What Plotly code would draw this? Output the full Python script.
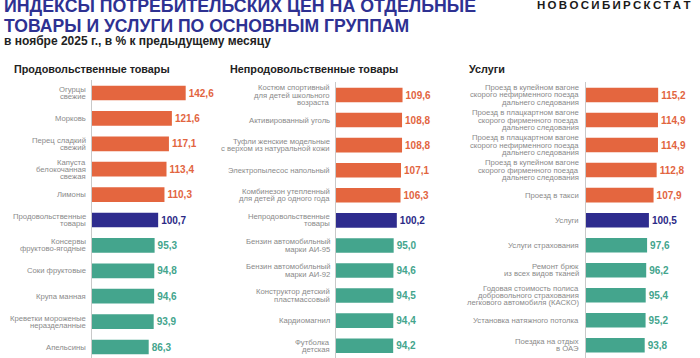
import plotly.graph_objects as go

# ---------------- data ----------------
food_labels = ["Огурцы<br>свежие", "Морковь", "Перец сладкий<br>свежий",
               "Капуста<br>белокочанная<br>свежая", "Лимоны",
               "Продовольственные<br>товары", "Консервы<br>фруктово-ягодные",
               "Соки фруктовые", "Крупа манная",
               "Креветки мороженые<br>неразделанные", "Апельсины"]
food_values = [142.6, 121.6, 117.1, 113.4, 110.3, 100.7, 95.3, 94.8, 94.6, 93.9, 86.3]

nonfood_labels = ["Костюм спортивный<br>для детей школьного<br>возраста",
                  "Активированный уголь",
                  "Туфли женские модельные<br>с верхом из натуральной кожи",
                  "Электропылесос напольный",
                  "Комбинезон утепленный<br>для детей до одного года",
                  "Непродовольственные<br>товары",
                  "Бензин автомобильный<br>марки АИ-95",
                  "Бензин автомобильный<br>марки АИ-92",
                  "Конструктор детский<br>пластмассовый",
                  "Кардиомагнил", "Футболка<br>детская"]
nonfood_values = [109.6, 108.8, 108.8, 107.1, 106.3, 100.2, 95.0, 94.6, 94.5, 94.4, 94.2]

service_labels = ["Проезд в купейном вагоне<br>скорого нефирменного поезда<br>дальнего следования",
                  "Проезд в плацкартном вагоне<br>скорого фирменного поезда<br>дальнего следования",
                  "Проезд в плацкартном вагоне<br>скорого нефирменного поезда<br>дальнего следования",
                  "Проезд в купейном вагоне<br>скорого фирменного поезда<br>дальнего следования",
                  "Проезд в такси", "Услуги", "Услуги страхования",
                  "Ремонт брюк<br>из всех видов тканей",
                  "Годовая стоимость полиса<br>добровольного страхования<br>легкового автомобиля (КАСКО)",
                  "Установка натяжного потолка",
                  "Поездка на отдых<br>в ОАЭ"]
service_values = [115.2, 114.9, 114.9, 112.8, 107.9, 100.5, 97.6, 96.2, 95.4, 95.2, 93.8]

panel_titles = ["Продовольственные товары", "Непродовольственные товары", "Услуги"]
title_line1 = "ИНДЕКСЫ ПОТРЕБИТЕЛЬСКИХ ЦЕН НА ОТДЕЛЬНЫЕ"
title_line2 = "ТОВАРЫ И УСЛУГИ ПО ОСНОВНЫМ ГРУППАМ"
subtitle = "в ноябре 2025 г., в % к предыдущему месяцу"
brand = "НОВОСИБИРСКСТАТ"

# ---------------- styling ----------------
W, H = 700, 358
FONT = "Liberation Sans, Arial, sans-serif"
ORANGE = "#E4663F"
NAVY = "#2E2C8E"
TEAL = "#44A58D"
TXT_ORANGE = "#E2653F"
TXT_NAVY = "#2B2A86"
TXT_TEAL = "#44A58D"
LABEL_GRAY = "#8A8A8A"
TITLE_BLUE = "#2E3192"


def colors_for(n):
    bar = [ORANGE] * 5 + [NAVY] + [TEAL] * (n - 6)
    txt = [TXT_ORANGE] * 5 + [TXT_NAVY] + [TXT_TEAL] * (n - 6)
    return bar, txt


# panel geometry: axis x (px), px per unit, first bar center (px), spacing (px), title x px
panels = [
    dict(labels=food_labels, values=food_values, ax=92.0, scale=0.657, c0=93.0, S=25.4, tx=11.5),
    dict(labels=nonfood_labels, values=nonfood_values, ax=336.0, scale=0.607, c0=95.0, S=25.07, tx=227.5),
    dict(labels=service_labels, values=service_values, ax=585.7, scale=0.629, c0=95.0, S=25.03, tx=467.0),
]
R = 160

fig = go.Figure()
annotations = []
layout_axes = {}

for i, p in enumerate(panels):
    k = "" if i == 0 else str(i + 1)
    xa, ya = "x" + k, "y" + k
    bar_c, txt_c = colors_for(len(p["values"]))
    fig.add_trace(go.Bar(
        x=p["values"], y=p["labels"], orientation="h",
        xaxis=xa, yaxis=ya,
        marker=dict(color=bar_c, line=dict(width=0)),
        width=0.58,
        text=["<b>" + f"{v:.1f}".replace(".", ",") + "</b>" for v in p["values"]],
        textposition="outside",
        textfont=dict(family=FONT, size=10, color=txt_c),
        constraintext="none",
        cliponaxis=False,
        hoverinfo="skip",
        showlegend=False,
    ))
    top = p["c0"] - p["S"] / 2
    bottom_val = -0.5 + (H - top) / p["S"]
    layout_axes["xaxis" + k] = dict(
        domain=[p["ax"] / W, (p["ax"] + R * p["scale"]) / W],
        range=[0, R], anchor=ya, visible=False, fixedrange=True,
    )
    layout_axes["yaxis" + k] = dict(
        domain=[0, 1 - top / H], anchor=xa, type="category",
        categoryorder="array", categoryarray=p["labels"],
        range=[bottom_val, -0.5],
        showticklabels=False, showgrid=False, zeroline=False,
        showline=True, linecolor="#C9C9C9", linewidth=1, ticks="",
    )
    # category labels, one annotation per line for tight line spacing
    LS = 7.2
    for lab in p["labels"]:
        lines = lab.split("<br>")
        m = len(lines)
        for j, ln in enumerate(lines):
            off = (j - (m - 1) / 2) * LS
            annotations.append(dict(
                x=0, y=lab, xref=xa, yref=ya, text=ln, showarrow=False,
                xanchor="right", yanchor="middle", xshift=-4.5, yshift=-off,
                font=dict(family=FONT, size=7.7, color=LABEL_GRAY),
            ))
    # panel title
    annotations.append(dict(
        x=p["tx"] / W, y=1 - 68.5 / H, xref="paper", yref="paper",
        text="<b>" + panel_titles[i] + "</b>", showarrow=False,
        xanchor="left", yanchor="middle",
        font=dict(family=FONT, size=10.8, color="#222222"),
    ))

# main titles
annotations += [
    dict(x=2 / W, y=1 - 5.5 / H, xref="paper", yref="paper", text="<b>" + title_line1 + "</b>",
         showarrow=False, xanchor="left", yanchor="middle",
         font=dict(family=FONT, size=17.75, color=TITLE_BLUE)),
    dict(x=2 / W, y=1 - 26.0 / H, xref="paper", yref="paper", text="<b>" + title_line2 + "</b>",
         showarrow=False, xanchor="left", yanchor="middle",
         font=dict(family=FONT, size=17.6, color=TITLE_BLUE)),
    dict(x=2 / W, y=1 - 40.5 / H, xref="paper", yref="paper", text="<b>" + subtitle + "</b>",
         showarrow=False, xanchor="left", yanchor="middle",
         font=dict(family=FONT, size=12, color="#222222")),
    dict(x=693 / W, y=1 - 5 / H, xref="paper", yref="paper",
         text="<b>" + "\u2009".join(brand) + "</b>",
         showarrow=False, xanchor="right", yanchor="middle",
         font=dict(family=FONT, size=11.5, color="#1A1A1A")),
]

fig.update_layout(
    width=W, height=H,
    margin=dict(l=0, r=0, t=0, b=0),
    paper_bgcolor="white", plot_bgcolor="white",
    annotations=annotations,
    **layout_axes,
)

fig.write_html("out.html", config={"displayModeBar": False},
               post_script="document.body.style.margin='0';document.body.style.overflow='hidden';")
